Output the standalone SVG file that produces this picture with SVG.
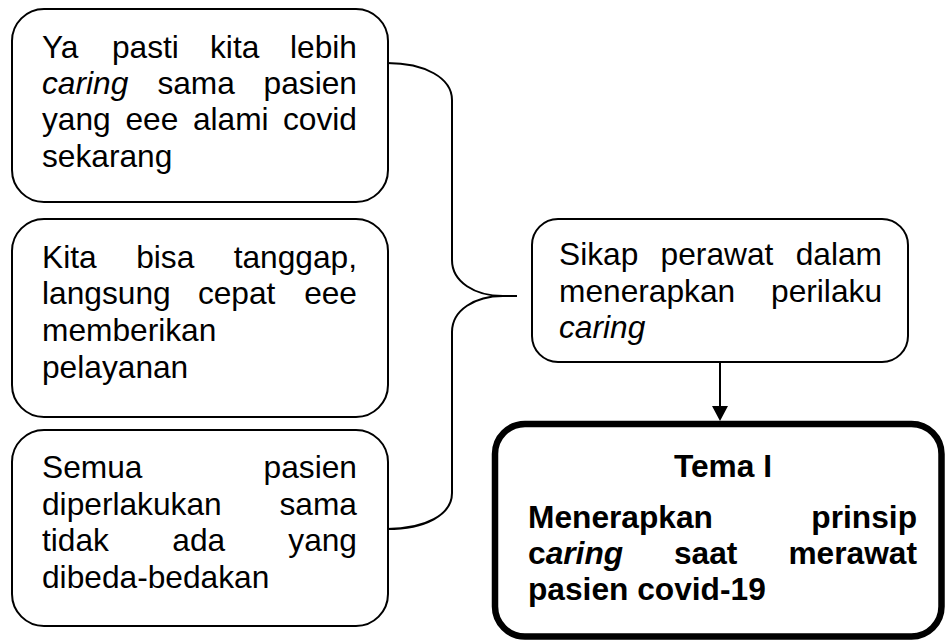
<svg xmlns="http://www.w3.org/2000/svg" width="945" height="640" viewBox="0 0 945 640">
<defs>
<style>
.box{fill:#fff;stroke:#000;stroke-width:2}
.tema{fill:#fff;stroke:#000;stroke-width:6.5}
.t{font-family:"Liberation Sans",Arial,sans-serif;font-size:31.7px;fill:#000}
.b{font-weight:bold}
.i{font-style:italic}
.e{text-anchor:end}
.m{text-anchor:middle}
.conn{fill:none;stroke:#000;stroke-width:2}
</style>
<marker id="arr" markerWidth="16" markerHeight="15" refX="8" refY="15" orient="auto-start-reverse" markerUnits="userSpaceOnUse" viewBox="0 0 16 15">
<path d="M0,0 L16,0 L8,15 Z" fill="#000" transform="rotate(0)"/>
</marker>
</defs>
<rect width="945" height="640" fill="#fff"/>

<g id="connectors">
<path class="conn" d="M387,63 C425,63 452,78 452,100 L452,260 C452,282 475,296 503,296 L517,296 M503,296 C475,296 452,310 452,332 L452,493 C452,515 425,529 387,529"/>
<line class="conn" x1="720" y1="362" x2="720" y2="406"/>
<path d="M712,406 L728,406 L720,421 Z" fill="#000"/>
</g>

<g id="node1">
<rect class="box" x="12" y="9" width="376" height="193" rx="32" ry="32"/>
<text class="t" y="58"><tspan x="42">Ya</tspan><tspan x="111.9">pasti</tspan><tspan x="210">kita</tspan></text>
<text class="t e" x="357" y="58">lebih</text>
<text class="t" y="94.2"><tspan class="i" x="42">caring</tspan><tspan x="157.4">sama</tspan></text>
<text class="t e" x="357" y="94.2">pasien</text>
<text class="t" y="130.4"><tspan x="42">yang</tspan><tspan x="125.4">eee</tspan><tspan x="192.9">alami</tspan></text>
<text class="t e" x="357" y="130.4">covid</text>
<text class="t" x="42" y="166.6">sekarang</text>
</g>

<g id="node2">
<rect class="box" x="12" y="219" width="376" height="198" rx="32" ry="32"/>
<text class="t" y="267.5"><tspan x="42">Kita</tspan><tspan x="136.2">bisa</tspan></text>
<text class="t e" x="357" y="267.5">tanggap,</text>
<text class="t" y="304.3"><tspan x="42">langsung</tspan><tspan x="197.9">cepat</tspan></text>
<text class="t e" x="357" y="304.3">eee</text>
<text class="t" x="42" y="341.1">memberikan</text>
<text class="t" x="42" y="377.9">pelayanan</text>
</g>

<g id="node3">
<rect class="box" x="12" y="430" width="376" height="196" rx="32" ry="32"/>
<text class="t" x="42" y="478">Semua</text>
<text class="t e" x="357" y="478">pasien</text>
<text class="t" x="42" y="514.7">diperlakukan</text>
<text class="t e" x="357" y="514.7">sama</text>
<text class="t" y="551.4"><tspan x="42">tidak</tspan><tspan x="172.3">ada</tspan></text>
<text class="t e" x="357" y="551.4">yang</text>
<text class="t" x="42" y="588.1">dibeda-bedakan</text>
</g>

<g id="node4">
<rect class="box" x="532" y="219" width="376" height="143" rx="26" ry="26"/>
<text class="t" y="265.3"><tspan x="559">Sikap</tspan><tspan x="660.6">perawat</tspan></text>
<text class="t e" x="882" y="265.3">dalam</text>
<text class="t" x="559" y="301.5">menerapkan</text>
<text class="t e" x="882" y="301.5">perilaku</text>
<text class="t i" x="559" y="337.7">caring</text>
</g>

<g id="tema">
<rect class="tema" x="495" y="424" width="446.5" height="212.5" rx="30" ry="30"/>
<text class="t b m" x="723" y="476.7">Tema I</text>
<text class="t b" x="528" y="528.3">Menerapkan</text>
<text class="t b e" x="917" y="528.3">prinsip</text>
<text class="t b" y="564.3"><tspan x="528">c</tspan><tspan class="i">aring</tspan><tspan x="673.9">saat</tspan></text>
<text class="t b e" x="917" y="564.3">merawat</text>
<text class="t b" x="528" y="600.3">pasien covid-19</text>
</g>
</svg>
